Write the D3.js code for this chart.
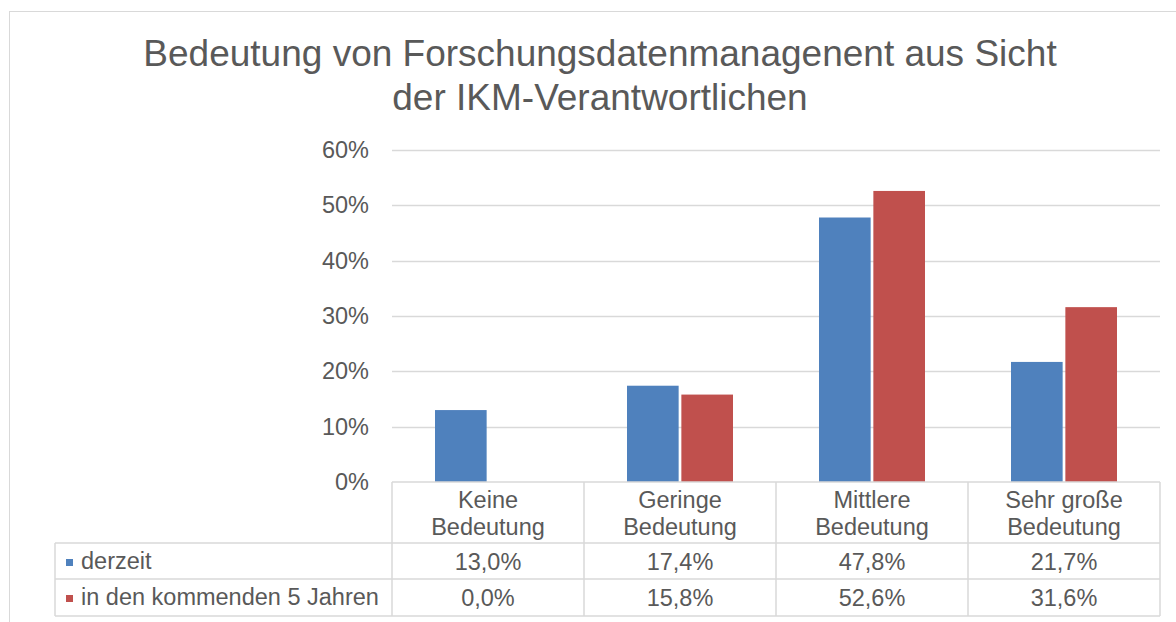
<!DOCTYPE html>
<html><head><meta charset="utf-8">
<style>
body { margin: 0; background: #fff; }
text { font-family: "Liberation Sans", Arial, sans-serif; fill: #595959; }
</style>
</head><body>
<svg width="1176" height="622"></svg>
<script src="https://d3js.org/d3.v7.min.js"></script>
<script>

var categories = [["Keine", "Bedeutung"], ["Geringe", "Bedeutung"], ["Mittlere", "Bedeutung"], ["Sehr große", "Bedeutung"]];
var seriesNames = ["derzeit", "in den kommenden 5 Jahren"];
var derzeit = [13.0, 17.4, 47.8, 21.7];
var kommend = [0.0, 15.8, 52.6, 31.6];
var yTicks = [0, 10, 20, 30, 40, 50, 60];
var colors = ["#4F81BD", "#C0504D"];

var svg = d3.select("svg"),
    margin = {top: 150, left: 392},
    width = 768,
    height = 482 - margin.top,
    fs = "23.5px";

// chart frame
svg.append("rect")
    .attr("x", 9.5).attr("y", 11.5)
    .attr("width", 1180).attr("height", 620)
    .attr("fill", "none").attr("stroke", "#d9d9d9");

svg.append("text")
    .attr("x", 600).attr("y", 66)
    .attr("text-anchor", "middle")
    .style("font-size", "37px")
    .text("Bedeutung von Forschungsdatenmanagenent aus Sicht");
svg.append("text")
    .attr("x", 600).attr("y", 110)
    .attr("text-anchor", "middle")
    .style("font-size", "37px")
    .text("der IKM-Verantwortlichen");

var x0 = d3.scaleBand().domain(d3.range(categories.length)).range([0, width]);
var x1 = d3.scaleBand().domain([0, 1]).range([43, 149]).paddingInner(0.05);
var y = d3.scaleLinear().domain([0, 60]).range([height, 0]);

var g = svg.append("g").attr("transform", "translate(" + margin.left + "," + margin.top + ")");

g.selectAll(".grid")
  .data(yTicks.filter(function(d) { return d > 0; }))
  .enter().append("line")
    .attr("x1", 0).attr("x2", width)
    .attr("y1", function(d) { return Math.round(y(d)) + 0.5; })
    .attr("y2", function(d) { return Math.round(y(d)) + 0.5; })
    .attr("stroke", "#d9d9d9").attr("stroke-width", 1.3);

var yAxis = g.append("g").call(d3.axisLeft(y).tickValues(yTicks).tickSize(0).tickPadding(23)
    .tickFormat(function(d) { return d + "%"; }));
yAxis.select(".domain").remove();
yAxis.selectAll("text").style("font-size", fs).attr("fill", "#595959")
    .style("font-family", "'Liberation Sans', Arial, sans-serif");

var series = [derzeit, kommend];
series.forEach(function(vals, s) {
  g.selectAll(".bar" + s)
    .data(vals)
    .enter().append("rect")
      .attr("x", function(d, i) { return x0(i) + x1(s); })
      .attr("width", x1.bandwidth())
      .attr("y", function(d) { return y(d); })
      .attr("height", function(d) { return height - y(d); })
      .attr("fill", colors[s]);
});

// data table
var tableLeft = 55, row0 = 482, row1 = 543, row2 = 579, row3 = 616;
var line = function(xa, ya, xb, yb) {
  svg.append("line").attr("x1", xa).attr("y1", ya).attr("x2", xb).attr("y2", yb)
    .attr("stroke", "#d9d9d9").attr("stroke-width", 1.5);
};
line(margin.left, row0, margin.left + width, row0);
line(tableLeft, row1, margin.left + width, row1);
line(tableLeft, row2, margin.left + width, row2);
line(tableLeft, row3, margin.left + width, row3);
line(tableLeft, row1, tableLeft, row3);
for (var i = 0; i <= categories.length; i++) {
  var xx = margin.left + x0.step() * i;
  line(xx, row0, xx, row3);
}

categories.forEach(function(c, i) {
  var cx = margin.left + x0(i) + x0.bandwidth() / 2;
  c.forEach(function(t, k) {
    svg.append("text").attr("x", cx).attr("y", 508 + k * 27)
      .attr("text-anchor", "middle").style("font-size", fs).text(t);
  });
});

var fmt = function(v) { return v.toFixed(1).replace(".", ",") + "%"; };
[row1, row2].forEach(function(r, s) {
  svg.append("rect").attr("x", 66).attr("y", r + 16).attr("width", 7).attr("height", 7).attr("fill", colors[s]);
  svg.append("text").attr("x", 81).attr("y", r + 26).style("font-size", fs).text(seriesNames[s]);
  series[s].forEach(function(v, i) {
    svg.append("text").attr("x", margin.left + x0(i) + x0.bandwidth() / 2).attr("y", r + 27)
      .attr("text-anchor", "middle").style("font-size", fs).text(fmt(v));
  });
});
</script>
</body></html>
